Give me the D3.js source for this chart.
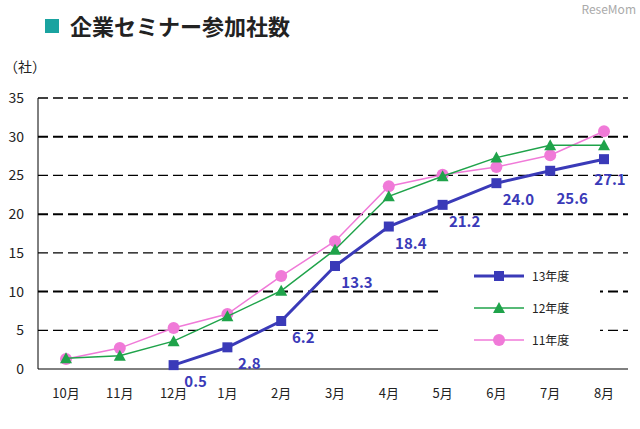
<!DOCTYPE html><html><head><meta charset="utf-8">
<script src="https://cdn.jsdelivr.net/npm/d3@7"></script>
<style>body{margin:0;background:#fff}</style></head><body>
<svg id="c" width="640" height="429"></svg>
<script>
const months=["10月","11月","12月","1月","2月","3月","4月","5月","6月","7月","8月"];
const s13=[null,null,0.5,2.8,6.2,13.3,18.4,21.2,24.0,25.6,27.1];
const s12=[1.4,1.7,3.6,6.8,10.1,15.4,22.3,24.9,27.3,28.9,28.9];
const s11=[1.3,2.7,5.3,7.1,12.0,16.5,23.6,25.1,26.1,27.6,30.7];
const yTicks=[0,5,10,15,20,25,30,35];
const svg=d3.select("#c");
const x=d3.scalePoint().domain(months).range([66,604]);
const y=d3.scaleLinear().domain([0,35]).range([369,98]);
const F="'Noto Sans CJK JP',sans-serif";
svg.append("rect").attr("x",45).attr("y",19).attr("width",14).attr("height",14).attr("fill","#1aa3a0");
svg.append("text").attr("x",70).attr("y",35).text("企業セミナー参加社数").attr("font-family",F).attr("font-weight","bold").attr("font-size",22).attr("fill","#222");
svg.append("text").attr("x",636).attr("y",14).attr("text-anchor","end").text("ReseMom").attr("font-family",F).attr("font-size",12).attr("fill","#aaa");
svg.append("text").attr("x",4).attr("y",72).text("（社）").attr("font-family",F).attr("font-size",14).attr("fill","#222");
svg.append("line").attr("x1",38).attr("x2",38).attr("y1",98).attr("y2",369).attr("stroke","#000");
yTicks.forEach(t=>{
 svg.append("line").attr("x1",38).attr("x2",628).attr("y1",y(t)).attr("y2",y(t)).attr("stroke","#000")
  .attr("stroke-width",t==0?1:(t%10==0?2:1.3)).attr("stroke-dasharray",t==0?null:"10,5");
 svg.append("text").attr("x",24).attr("y",y(t)+5).attr("text-anchor","end").text(t).attr("font-family",F).attr("font-size",14).attr("fill","#222");
});
months.forEach(m=>svg.append("text").attr("x",x(m)).attr("y",398).attr("text-anchor","middle").text(m).attr("font-family",F).attr("font-size",13).attr("fill","#222"));
svg.append("rect").attr("x",442).attr("y",258).attr("width",158).attr("height",100).attr("fill","#fff");
const series=[{n:"13年度",d:s13,c:"#3a3ab8",w:3,sh:"sq"},{n:"12年度",d:s12,c:"#1fa34a",w:1.5,sh:"tri"},{n:"11年度",d:s11,c:"#f07ad8",w:1.5,sh:"ci"}];
const line=d3.line().defined(d=>d!=null).x((d,i)=>x(months[i])).y(d=>y(d));
function mark(g,sh,cx,cy,c){
 if(sh=="sq")g.append("rect").attr("x",cx-5).attr("y",cy-5).attr("width",10).attr("height",10).attr("fill",c);
 else if(sh=="tri")g.append("path").attr("d",`M${cx},${cy-6}L${cx+6},${cy+5}L${cx-6},${cy+5}Z`).attr("fill",c);
 else g.append("circle").attr("cx",cx).attr("cy",cy).attr("r",6).attr("fill",c);
}
series.slice().reverse().forEach(s=>{
 svg.append("path").attr("d",line(s.d)).attr("fill","none").attr("stroke",s.c).attr("stroke-width",s.w);
 s.d.forEach((v,i)=>{if(v!=null)mark(svg,s.sh,x(months[i]),y(v),s.c);});
});
s13.forEach((v,i)=>{if(v!=null)svg.append("text").attr("x",x(months[i])+(i==10?6:22)).attr("y",y(v)+(i==10?26:(i==9?33:22))).attr("text-anchor","middle").text(v.toFixed(1)).attr("font-family",F).attr("font-weight","bold").attr("font-size",15).attr("fill","#3a3ab8");});
series.forEach((s,k)=>{const ly=276+k*32;
 svg.append("line").attr("x1",474).attr("x2",524).attr("y1",ly).attr("y2",ly).attr("stroke",s.c).attr("stroke-width",s.w);
 mark(svg,s.sh,499,ly,s.c);
 svg.append("text").attr("x",532).attr("y",ly+5).text(s.n).attr("font-family",F).attr("font-size",12).attr("fill","#222");
});
</script></body></html>
